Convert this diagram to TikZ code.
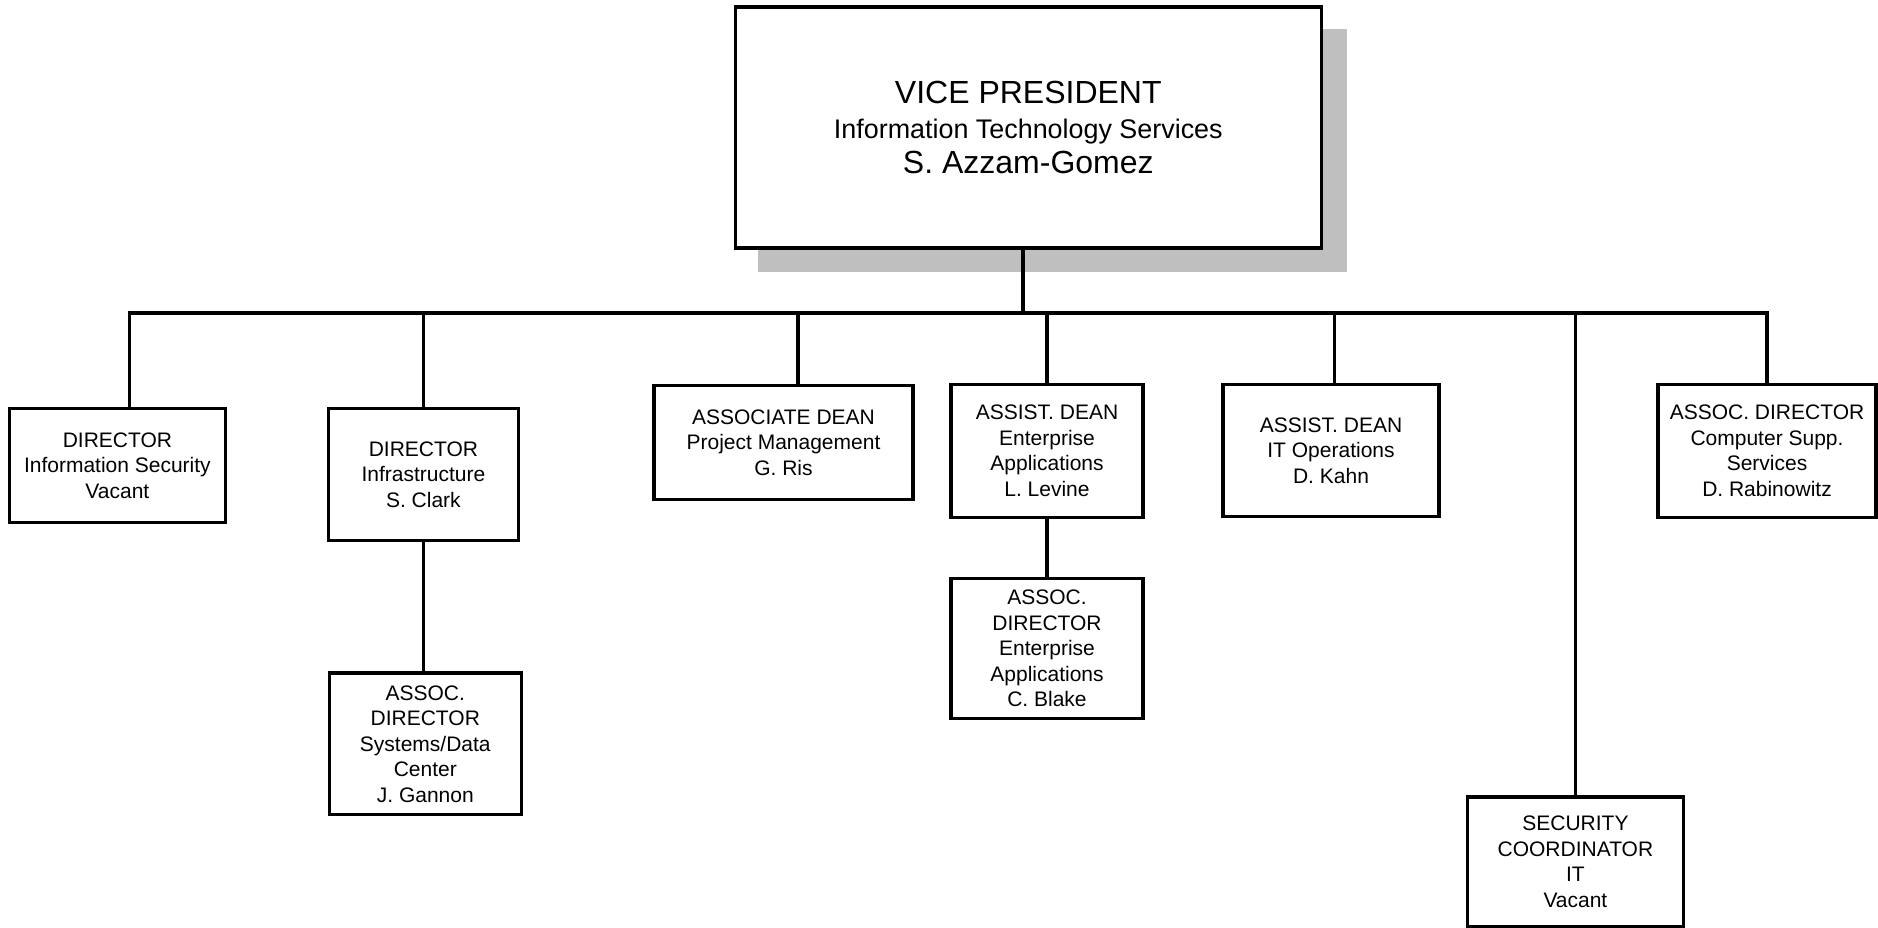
\documentclass[tikz,border=0pt]{standalone}
\usepackage{fontspec}
\setmainfont{Liberation Sans}
\begin{document}
\begin{tikzpicture}[x=1pt,y=-1pt,
  box/.style={draw=black, line width=3.1pt, fill=white, rectangle, inner sep=0pt, align=center,
    font=\fontsize{21}{25.5}\selectfont},
  link/.style={draw=black, line width=3.1pt},
  shadowfill/.style={fill=black!25, draw=none}]
\useasboundingbox (0,0) rectangle (1878,928);
% shadow of top box
\fill[shadowfill] (758,29) rectangle (1346.5,272);
% top box
\node[box, minimum width=585.5pt, minimum height=241pt, font=\fontsize{32}{35}\selectfont]
  (vp) at (1028.3,127.5) {VICE PRESIDENT\\{\fontsize{26.9}{35}\selectfont Information Technology Services}\\S. Azzam-Gomez};
% second level
\node[box, minimum width=215.6pt, minimum height=113.8pt] (infosec) at (117.4,465.4)
  {DIRECTOR\\Information Security\\Vacant};
\node[box, minimum width=190.7pt, minimum height=131.8pt] (infra) at (423.4,474.4)
  {DIRECTOR\\Infrastructure\\S. Clark};
\node[box, minimum width=191.5pt, minimum height=141.6pt] (gannon) at (425.3,743.8)
  {ASSOC.\\DIRECTOR\\Systems/Data\\Center\\J. Gannon};
\node[box, minimum width=259pt, minimum height=114pt] (assocdean) at (783.5,442.7)
  {ASSOCIATE DEAN\\Project Management\\G. Ris};
\node[box, minimum width=192pt, minimum height=133pt] (ead) at (1047,451)
  {ASSIST. DEAN\\Enterprise\\Applications\\L. Levine};
\node[box, minimum width=192pt, minimum height=140.2pt] (blake) at (1047,648.7)
  {ASSOC.\\DIRECTOR\\Enterprise\\Applications\\C. Blake};
\node[box, minimum width=216pt, minimum height=131.7pt] (itops) at (1331,450.5)
  {ASSIST. DEAN\\IT Operations\\D. Kahn};
\node[box, minimum width=215.7pt, minimum height=130pt] (seccoord) at (1575.4,862)
  {SECURITY\\COORDINATOR\\IT\\Vacant};
\node[box, minimum width=218pt, minimum height=133pt] (compsupp) at (1767,451)
  {ASSOC. DIRECTOR\\Computer Supp.\\Services\\D. Rabinowitz};
% bus taps
\coordinate (t1) at (129.4,313);
\coordinate (t2) at (423.4,313);
\coordinate (t3) at (798,313);
\coordinate (tv) at (1023,313);
\coordinate (t4) at (1047,313);
\coordinate (t5) at (1334.6,313);
\coordinate (t6) at (1575.4,313);
\coordinate (t7) at (1767,313);
% connectors
\draw[link, line cap=rect] (t1) -- (t7);
\draw[link] (tv |- vp.south) -- (tv);
\draw[link] (t1) -- (t1 |- infosec.north);
\draw[link] (t2) -- (t2 |- infra.north);
\draw[link] (t3) -- (t3 |- assocdean.north);
\draw[link] (t4) -- (t4 |- ead.north);
\draw[link] (t5) -- (t5 |- itops.north);
\draw[link] (t6) -- (t6 |- seccoord.north);
\draw[link] (t7) -- (t7 |- compsupp.north);
\draw[link] (infra.south) -- (infra.south |- gannon.north);
\draw[link] (ead.south) -- (ead.south |- blake.north);
\end{tikzpicture}
\end{document}
